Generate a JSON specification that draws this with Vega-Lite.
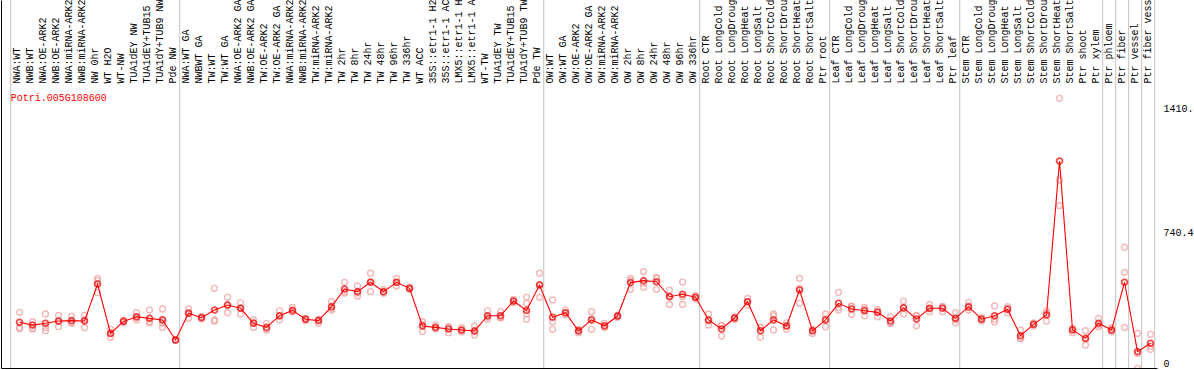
{
  "$schema": "https://vega.github.io/schema/vega-lite/v6.json",
  "width": 1193,
  "height": 368,
  "autosize": "none",
  "padding": {"left": 1, "top": 0, "right": 0, "bottom": 2},
  "background": "white",
  "config": {"view": {"stroke": null}, "font": "Liberation Mono"},
  "datasets": {
    "samples": [
      {"name": "NWA:WT", "mean": 206, "reps": [262, 175, 170]},
      {"name": "NWB:WT", "mean": 190, "reps": [209, 172, 168]},
      {"name": "NWA:OE-ARK2", "mean": 200, "reps": [253, 177, 158]},
      {"name": "NWB:OE-ARK2", "mean": 213, "reps": [245, 181, 210]},
      {"name": "NWA:miRNA-ARK2", "mean": 215, "reps": [241, 200, 205]},
      {"name": "NWB:miRNA-ARK2", "mean": 213, "reps": [245, 175, 220]},
      {"name": "NW 0hr", "mean": 422, "reps": [454, 441, 373]},
      {"name": "WT H2O", "mean": 143, "reps": [166, 121, 143]},
      {"name": "WT-NW", "mean": 211, "reps": [218, 205, 211]},
      {"name": "TUA1dEY NW", "mean": 237, "reps": [260, 219, 232]},
      {"name": "TUA1dEY+TUB15 NW", "mean": 228, "reps": [275, 203, 210]},
      {"name": "TUA1dY+TUB9 NW", "mean": 219, "reps": [281, 177, 200, 222]},
      {"name": "Pde NW", "mean": 106, "reps": [106, 108, 104]},
      {"name": "NWA:WT GA", "mean": 257, "reps": [281, 228, 262]},
      {"name": "NWBWT GA", "mean": 232, "reps": [238, 224, 234]},
      {"name": "TW:WT", "mean": 275, "reps": [398, 219, 212]},
      {"name": "TW:WT GA", "mean": 303, "reps": [347, 260, 303]},
      {"name": "NWA:OE-ARK2 GA", "mean": 285, "reps": [316, 253, 286]},
      {"name": "NWB:OE-ARK2 GA", "mean": 200, "reps": [219, 177, 204]},
      {"name": "TW:OE-ARK2", "mean": 177, "reps": [200, 162, 170]},
      {"name": "TW:OE-ARK2 GA", "mean": 243, "reps": [271, 219, 240]},
      {"name": "NWA:miRNA-ARK2 GA", "mean": 273, "reps": [290, 265, 266]},
      {"name": "NWB:miRNA-ARK2 GA", "mean": 223, "reps": [230, 215, 224]},
      {"name": "TW:miRNA-ARK2", "mean": 215, "reps": [222, 200, 222]},
      {"name": "TW:miRNA-ARK2 GA", "mean": 294, "reps": [322, 275, 285]},
      {"name": "TW 2hr", "mean": 394, "reps": [432, 379, 371]},
      {"name": "TW 8hr", "mean": 379, "reps": [411, 354, 372]},
      {"name": "TW 24hr", "mean": 432, "reps": [483, 379, 434]},
      {"name": "TW 48hr", "mean": 379, "reps": [392, 370, 375]},
      {"name": "TW 96hr", "mean": 432, "reps": [454, 411, 431]},
      {"name": "TW 336hr", "mean": 398, "reps": [405, 392, 398]},
      {"name": "WT ACC", "mean": 185, "reps": [209, 153, 193]},
      {"name": "35S::etr1-1 H2O", "mean": 177, "reps": [190, 168, 173]},
      {"name": "35S::etr1-1 ACC", "mean": 168, "reps": [181, 147, 176]},
      {"name": "LMX5::etr1-1 H2O", "mean": 162, "reps": [175, 160, 151]},
      {"name": "LMX5::etr1-1 ACC", "mean": 157, "reps": [185, 134, 152]},
      {"name": "WT-TW", "mean": 243, "reps": [271, 223, 235]},
      {"name": "TUA1dEY TW", "mean": 243, "reps": [266, 230, 233]},
      {"name": "TUA1dEY+TUB15 TW", "mean": 326, "reps": [335, 317, 326]},
      {"name": "TUA1dY+TUB9 TW", "mean": 273, "reps": [347, 313, 253, 223]},
      {"name": "Pde TW", "mean": 416, "reps": [483, 347, 418]},
      {"name": "OW:WT", "mean": 234, "reps": [332, 166, 209]},
      {"name": "OW:WT GA", "mean": 260, "reps": [275, 247, 258]},
      {"name": "OW:OE-ARK2", "mean": 157, "reps": [166, 147, 158]},
      {"name": "OW:OE-ARK2 GA", "mean": 219, "reps": [266, 166, 225]},
      {"name": "OW:miRNA-ARK2", "mean": 186, "reps": [200, 177, 181]},
      {"name": "OW:miRNA-ARK2 GA", "mean": 241, "reps": [247, 234, 242]},
      {"name": "OW 2hr", "mean": 430, "reps": [454, 392, 444]},
      {"name": "OW 8hr", "mean": 441, "reps": [492, 404, 427]},
      {"name": "OW 24hr", "mean": 435, "reps": [454, 392, 459]},
      {"name": "OW 48hr", "mean": 350, "reps": [388, 307, 355]},
      {"name": "OW 96hr", "mean": 364, "reps": [433, 307, 352]},
      {"name": "OW 336hr", "mean": 347, "reps": [356, 338, 347]},
      {"name": "Root CTR", "mean": 219, "reps": [253, 190, 214]},
      {"name": "Root LongCold", "mean": 168, "reps": [190, 128, 186]},
      {"name": "Root LongDrought", "mean": 230, "reps": [237, 222, 231]},
      {"name": "Root LongHeat", "mean": 322, "reps": [341, 303, 322]},
      {"name": "Root LongSalt", "mean": 158, "reps": [177, 121, 176]},
      {"name": "Root ShortCold", "mean": 219, "reps": [253, 162, 242]},
      {"name": "Root ShortDrought", "mean": 185, "reps": [203, 166, 186]},
      {"name": "Root ShortHeat", "mean": 388, "reps": [454, 313, 397]},
      {"name": "Root ShortSalt", "mean": 157, "reps": [166, 143, 162]},
      {"name": "Ptr root", "mean": 219, "reps": [253, 181, 223]},
      {"name": "Leaf CTR", "mean": 313, "reps": [375, 275, 289]},
      {"name": "Leaf LongCold", "mean": 281, "reps": [298, 251, 294]},
      {"name": "Leaf LongDrought", "mean": 271, "reps": [290, 243, 280]},
      {"name": "Leaf LongHeat", "mean": 262, "reps": [279, 237, 270]},
      {"name": "Leaf LongSalt", "mean": 213, "reps": [237, 200, 202]},
      {"name": "Leaf ShortCold", "mean": 288, "reps": [326, 253, 285]},
      {"name": "Leaf ShortDrought", "mean": 224, "reps": [241, 186, 245]},
      {"name": "Leaf ShortHeat", "mean": 285, "reps": [307, 266, 282]},
      {"name": "Leaf ShortSalt", "mean": 285, "reps": [296, 266, 293]},
      {"name": "Ptr leaf", "mean": 228, "reps": [260, 203, 221]},
      {"name": "Stem CTR", "mean": 294, "reps": [319, 275, 288]},
      {"name": "Stem LongCold", "mean": 223, "reps": [232, 213, 224]},
      {"name": "Stem LongDrought", "mean": 243, "reps": [298, 223, 208]},
      {"name": "Stem LongHeat", "mean": 279, "reps": [294, 260, 283]},
      {"name": "Stem LongSalt", "mean": 130, "reps": [162, 115, 113]},
      {"name": "Stem ShortCold", "mean": 194, "reps": [203, 185, 194]},
      {"name": "Stem ShortDrought", "mean": 247, "reps": [271, 213, 257]},
      {"name": "Stem ShortHeat", "mean": 1117, "reps": [1472, 1010, 865]},
      {"name": "Stem ShortSalt", "mean": 162, "reps": [172, 147, 167]},
      {"name": "Ptr shoot", "mean": 115, "reps": [158, 77, 110]},
      {"name": "Ptr xylem", "mean": 200, "reps": [228, 181, 191]},
      {"name": "Ptr phloem", "mean": 162, "reps": [175, 151, 160]},
      {"name": "Ptr fiber", "mean": 432, "reps": [630, 488, 177]},
      {"name": "Ptr vessel", "mean": 40, "reps": [143, -54, 30]},
      {"name": "Ptr fiber vessel", "mean": 87, "reps": [138, 53, 70]}
    ],
    "seps": [
      {"name": "NWA:WT", "edge": "start"},
      {"name": "Pde NW", "edge": "end"},
      {"name": "Pde TW", "edge": "end"},
      {"name": "OW 336hr", "edge": "end"},
      {"name": "Ptr root", "edge": "end"},
      {"name": "Ptr leaf", "edge": "end"},
      {"name": "Ptr xylem", "edge": "end"},
      {"name": "Ptr phloem", "edge": "end"},
      {"name": "Ptr fiber", "edge": "end"},
      {"name": "Ptr vessel", "edge": "end"},
      {"name": "Ptr fiber vessel", "edge": "end"}
    ]
  },
  "layer": [
    {
      "data": {"name": "seps"},
      "transform": [{"filter": "datum.edge === 'end'"}],
      "mark": {"type": "rule", "color": "#c4c4c4", "strokeWidth": 1},
      "encoding": {
        "x": {
          "field": "name", "type": "nominal", "bandPosition": 1,
          "scale": {
            "type": "band",
            "domain": ["NWA:WT","NWB:WT","NWA:OE-ARK2","NWB:OE-ARK2","NWA:miRNA-ARK2","NWB:miRNA-ARK2","NW 0hr","WT H2O","WT-NW","TUA1dEY NW","TUA1dEY+TUB15 NW","TUA1dY+TUB9 NW","Pde NW","NWA:WT GA","NWBWT GA","TW:WT","TW:WT GA","NWA:OE-ARK2 GA","NWB:OE-ARK2 GA","TW:OE-ARK2","TW:OE-ARK2 GA","NWA:miRNA-ARK2 GA","NWB:miRNA-ARK2 GA","TW:miRNA-ARK2","TW:miRNA-ARK2 GA","TW 2hr","TW 8hr","TW 24hr","TW 48hr","TW 96hr","TW 336hr","WT ACC","35S::etr1-1 H2O","35S::etr1-1 ACC","LMX5::etr1-1 H2O","LMX5::etr1-1 ACC","WT-TW","TUA1dEY TW","TUA1dEY+TUB15 TW","TUA1dY+TUB9 TW","Pde TW","OW:WT","OW:WT GA","OW:OE-ARK2","OW:OE-ARK2 GA","OW:miRNA-ARK2","OW:miRNA-ARK2 GA","OW 2hr","OW 8hr","OW 24hr","OW 48hr","OW 96hr","OW 336hr","Root CTR","Root LongCold","Root LongDrought","Root LongHeat","Root LongSalt","Root ShortCold","Root ShortDrought","Root ShortHeat","Root ShortSalt","Ptr root","Leaf CTR","Leaf LongCold","Leaf LongDrought","Leaf LongHeat","Leaf LongSalt","Leaf ShortCold","Leaf ShortDrought","Leaf ShortHeat","Leaf ShortSalt","Ptr leaf","Stem CTR","Stem LongCold","Stem LongDrought","Stem LongHeat","Stem LongSalt","Stem ShortCold","Stem ShortDrought","Stem ShortHeat","Stem ShortSalt","Ptr shoot","Ptr xylem","Ptr phloem","Ptr fiber","Ptr vessel","Ptr fiber vessel"],
            "range": [0, 1156],
            "paddingInner": 0,
            "paddingOuter": 0.4615,
            "align": 0.808
          },
          "axis": {
            "orient": "top", "offset": -86, "domain": false, "ticks": false, "tickSize": 0,
            "grid": false, "title": null, "labelAngle": -90, "labelAlign": "left",
            "labelBaseline": "middle", "labelPadding": 3, "labelFont": "Liberation Mono",
            "labelFontSize": 10, "labelColor": "black", "labelOverlap": false,
            "labelLimit": 400, "bandPosition": 0.56
          }
        }
      }
    },
    {
      "data": {"name": "seps"},
      "transform": [{"filter": "datum.edge === 'start'"}],
      "mark": {"type": "rule", "color": "#c4c4c4", "strokeWidth": 1},
      "encoding": {
        "x": {"field": "name", "type": "nominal", "bandPosition": 0, "axis": null}
      }
    },
    {
      "mark": {"type": "rule", "color": "#c4c4c4", "strokeWidth": 1},
      "encoding": {
        "y": {"datum": 740.4, "type": "quantitative", "axis": null}
      }
    },
    {
      "mark": {"type": "rule", "color": "black", "strokeWidth": 1},
      "encoding": {
        "y": {"datum": 1541.3, "type": "quantitative", "axis": null}
      }
    },
    {
      "data": {"name": "samples"},
      "transform": [{"flatten": ["reps"]}],
      "mark": {"type": "point", "shape": "circle", "filled": false, "size": 34, "strokeWidth": 1.4, "color": "#f09c9c", "clip": true},
      "encoding": {
        "x": {"field": "name", "type": "nominal", "bandPosition": 0.68, "axis": null},
        "y": {
          "field": "reps", "type": "quantitative",
          "scale": {"domain": [-52.6, 2027.4], "nice": false, "zero": false},
          "axis": {"orient": "left", "labels": false, "ticks": false, "grid": false, "title": null, "domain": true, "domainColor": "black", "domainWidth": 1}
        }
      }
    },
    {
      "data": {"name": "samples"},
      "mark": {"type": "line", "color": "#ff0000", "strokeWidth": 1.1},
      "encoding": {
        "x": {
          "field": "name", "type": "nominal", "bandPosition": 0.68,
          "axis": {"orient": "bottom", "labels": false, "ticks": false, "grid": false, "title": null, "domain": true, "domainColor": "black", "domainWidth": 1}
        },
        "y": {"field": "mean", "type": "quantitative", "axis": null}
      }
    },
    {
      "data": {"name": "samples"},
      "mark": {"type": "point", "shape": "circle", "filled": false, "size": 34, "strokeWidth": 1.8, "color": "#ee0000"},
      "encoding": {
        "x": {"field": "name", "type": "nominal", "bandPosition": 0.68, "axis": null},
        "y": {
          "field": "mean", "type": "quantitative",
          "axis": {
            "orient": "right", "values": [0, 740.4, 1410.8], "labelExpr": "datum.value + ''",
            "domain": false, "ticks": false, "tickSize": 0, "grid": false, "title": null,
            "labelAlign": "left", "labelBaseline": "top", "labelPadding": -31,
            "labelFont": "Liberation Mono", "labelFontSize": 10, "labelColor": "black",
            "labelOverlap": false, "labelFlush": false,
            "labelOffset": {"condition": {"test": "datum.value > 1000", "value": -6}, "value": 0}
          }
        }
      }
    },
    {
      "data": {"values": [{"gene": "Potri.005G108600"}]},
      "mark": {"type": "text", "align": "left", "baseline": "alphabetic", "font": "Liberation Mono", "fontSize": 10, "color": "#ff0000"},
      "encoding": {
        "x": {"datum": "NWA:WT", "type": "nominal", "bandPosition": 0, "axis": null},
        "y": {"datum": 1456, "type": "quantitative", "axis": null},
        "text": {"field": "gene", "type": "nominal"}
      }
    }
  ]
}
